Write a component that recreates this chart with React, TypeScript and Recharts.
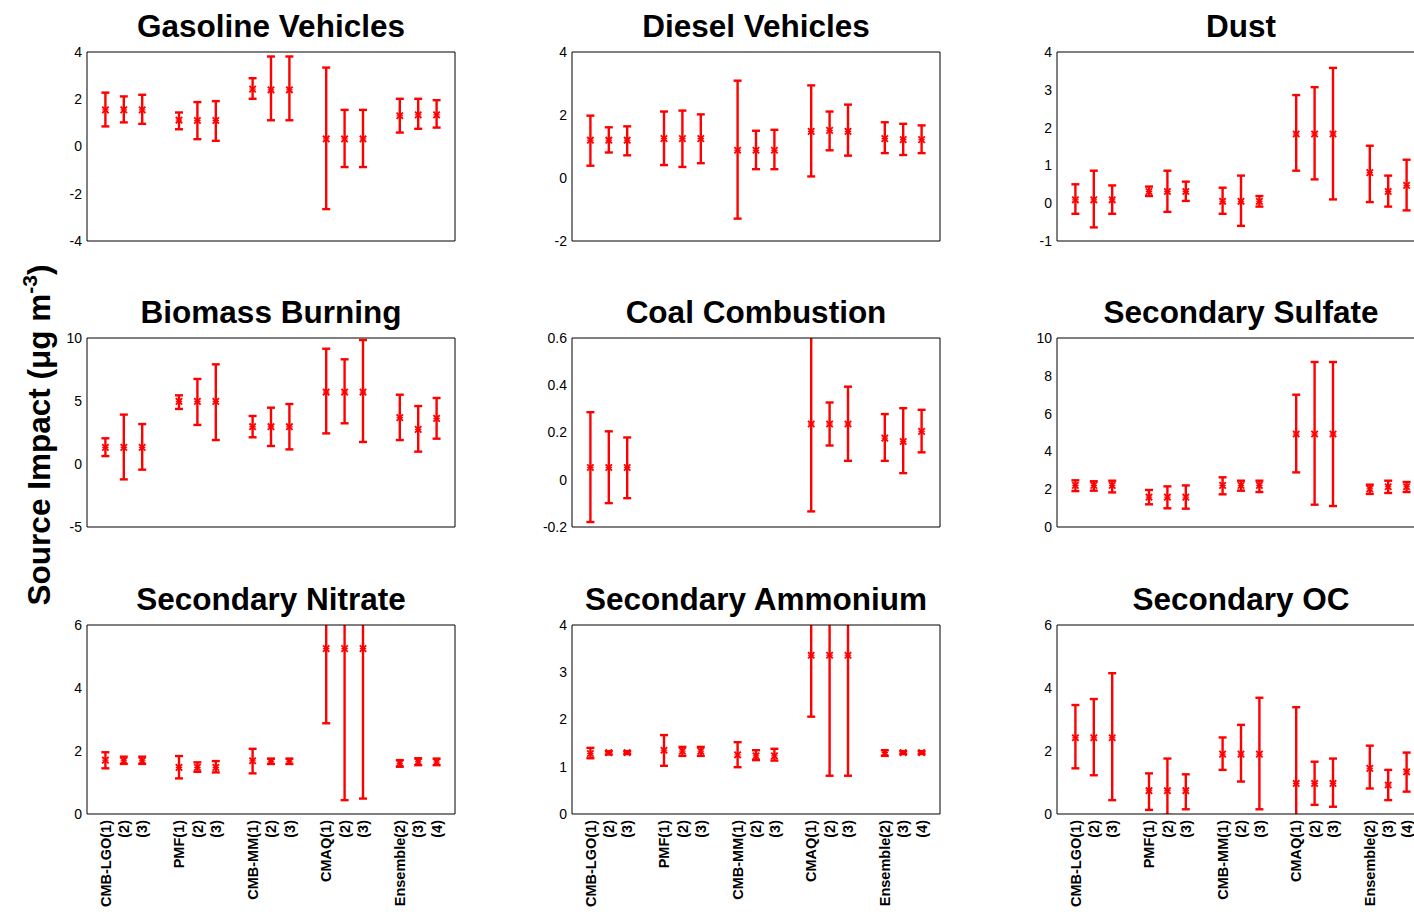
import React from 'react';
import { ComposedChart, Scatter, ErrorBar, XAxis, YAxis } from 'recharts';

// x positions of the 15 estimates (gaps at 4, 8, 12, 16)
const positions = [1, 2, 3, 5, 6, 7, 9, 10, 11, 13, 14, 15, 17, 18, 19];
const methodLabels = [
  'CMB-LGO(1)', '(2)', '(3)',
  'PMF(1)', '(2)', '(3)',
  'CMB-MM(1)', '(2)', '(3)',
  'CMAQ(1)', '(2)', '(3)',
  'Ensemble(2)', '(3)', '(4)',
];
const xFrameTicks = [0, 5, 10, 15, 20];

// Gasoline Vehicles
const gasMean = [1.55, 1.55, 1.55, 1.12, 1.1, 1.1, 2.43, 2.4, 2.4, 0.32, 0.32, 0.32, 1.3, 1.34, 1.34];
const gasLow = [0.85, 1.02, 0.96, 0.73, 0.31, 0.24, 2.02, 1.11, 1.11, -2.65, -0.87, -0.87, 0.59, 0.75, 0.8];
const gasHigh = [2.28, 2.12, 2.19, 1.44, 1.88, 1.92, 2.89, 3.81, 3.81, 3.34, 1.55, 1.55, 2.02, 2.02, 1.96];

// Diesel Vehicles
const dieselMean = [1.2, 1.2, 1.2, 1.25, 1.25, 1.25, 0.88, 0.88, 0.88, 1.48, 1.51, 1.48, 1.25, 1.22, 1.22];
const dieselLow = [0.39, 0.81, 0.72, 0.41, 0.35, 0.47, -1.29, 0.28, 0.28, 0.05, 0.88, 0.71, 0.79, 0.73, 0.79];
const dieselHigh = [1.98, 1.61, 1.64, 2.11, 2.14, 2.02, 3.09, 1.5, 1.53, 2.94, 2.11, 2.33, 1.77, 1.72, 1.67];

// Dust
const dustMean = [0.09, 0.09, 0.09, 0.31, 0.31, 0.31, 0.05, 0.05, 0.05, 1.83, 1.83, 1.83, 0.81, 0.31, 0.47];
const dustLow = [-0.28, -0.64, -0.28, 0.19, -0.23, 0.06, -0.28, -0.6, -0.09, 0.86, 0.63, 0.1, 0.03, -0.09, -0.19];
const dustHigh = [0.5, 0.86, 0.47, 0.44, 0.86, 0.57, 0.41, 0.73, 0.19, 2.86, 3.07, 3.58, 1.52, 0.73, 1.15];

// Biomass Burning
const biomassMean = [1.32, 1.32, 1.32, 4.97, 4.97, 4.97, 2.96, 2.96, 2.96, 5.71, 5.71, 5.71, 3.68, 2.75, 3.62];
const biomassLow = [0.63, -1.22, -0.45, 4.37, 3.1, 1.9, 2.12, 1.43, 1.16, 2.43, 3.23, 1.75, 1.9, 0.98, 2.01];
const biomassHigh = [2.04, 3.92, 3.17, 5.45, 6.75, 7.91, 3.81, 4.47, 4.76, 9.15, 8.31, 9.84, 5.5, 4.6, 5.24];

// Coal Combustion (no PMF / CMB-MM estimates)
const coalMean = [0.052, 0.052, 0.052, null, null, null, null, null, null, 0.236, 0.236, 0.236, 0.176, 0.162, 0.205];
const coalLow = [-0.179, -0.099, -0.078, null, null, null, null, null, null, -0.134, 0.145, 0.08, 0.08, 0.028, 0.116];
const coalHigh = [0.286, 0.205, 0.179, null, null, null, null, null, null, 0.606, 0.327, 0.394, 0.278, 0.303, 0.296];

// Secondary Sulfate
const sulfateMean = [2.2, 2.2, 2.2, 1.58, 1.58, 1.58, 2.2, 2.2, 2.2, 4.92, 4.92, 4.92, 2.02, 2.13, 2.13];
const sulfateLow = [1.9, 1.92, 1.83, 1.2, 0.99, 0.97, 1.73, 1.92, 1.85, 2.89, 1.18, 1.11, 1.75, 1.8, 1.85];
const sulfateHigh = [2.47, 2.42, 2.45, 1.96, 2.15, 2.2, 2.63, 2.45, 2.45, 7.0, 8.73, 8.73, 2.24, 2.45, 2.38];

// Secondary Nitrate
const nitrateMean = [1.71, 1.69, 1.69, 1.48, 1.48, 1.48, 1.69, 1.66, 1.66, 5.25, 5.25, 5.25, 1.61, 1.66, 1.65];
const nitrateLow = [1.45, 1.59, 1.59, 1.13, 1.34, 1.32, 1.29, 1.59, 1.59, 2.88, 0.44, 0.49, 1.5, 1.55, 1.55];
const nitrateHigh = [1.96, 1.82, 1.82, 1.84, 1.64, 1.68, 2.07, 1.76, 1.76, 7.62, 10.06, 10.01, 1.71, 1.77, 1.76];

// Secondary Ammonium
const ammoniumMean = [1.28, 1.3, 1.3, 1.35, 1.33, 1.33, 1.25, 1.23, 1.23, 3.36, 3.36, 3.36, 1.3, 1.3, 1.3];
const ammoniumLow = [1.18, 1.26, 1.27, 1.02, 1.23, 1.23, 0.99, 1.14, 1.13, 2.06, 0.81, 0.81, 1.23, 1.27, 1.27];
const ammoniumHigh = [1.4, 1.33, 1.33, 1.67, 1.42, 1.42, 1.52, 1.35, 1.38, 4.66, 5.91, 5.91, 1.35, 1.33, 1.33];

// Secondary OC
const ocMean = [2.42, 2.42, 2.42, 0.74, 0.74, 0.74, 1.9, 1.9, 1.9, 0.97, 0.97, 0.97, 1.45, 0.92, 1.34];
const ocLow = [1.45, 1.23, 0.44, 0.13, -0.03, 0.15, 1.4, 1.03, 0.15, -1.45, 0.29, 0.23, 0.81, 0.44, 0.71];
const ocHigh = [3.46, 3.65, 4.47, 1.29, 1.76, 1.26, 2.43, 2.83, 3.69, 3.39, 1.66, 1.76, 2.17, 1.4, 1.95];

const panelTitles = [
  'Gasoline Vehicles', 'Diesel Vehicles', 'Dust',
  'Biomass Burning', 'Coal Combustion', 'Secondary Sulfate',
  'Secondary Nitrate', 'Secondary Ammonium', 'Secondary OC',
];
const yDomains: [number, number][] = [
  [-4, 4], [-2, 4], [-1, 4],
  [-5, 10], [-0.2, 0.6], [0, 10],
  [0, 6], [0, 4], [0, 6],
];
const yTickSets = [
  [-4, -2, 0, 2, 4], [-2, 0, 2, 4], [-1, 0, 1, 2, 3, 4],
  [-5, 0, 5, 10], [-0.2, 0, 0.2, 0.4, 0.6], [0, 2, 4, 6, 8, 10],
  [0, 2, 4, 6], [0, 1, 2, 3, 4], [0, 2, 4, 6],
];
const seriesMeans = [gasMean, dieselMean, dustMean, biomassMean, coalMean, sulfateMean, nitrateMean, ammoniumMean, ocMean];
const seriesLows = [gasLow, dieselLow, dustLow, biomassLow, coalLow, sulfateLow, nitrateLow, ammoniumLow, ocLow];
const seriesHighs = [gasHigh, dieselHigh, dustHigh, biomassHigh, coalHigh, sulfateHigh, nitrateHigh, ammoniumHigh, ocHigh];

const FONT = '"Liberation Sans", Arial, Helvetica, sans-serif';
const RED = '#ff0000';
const PLOT_W = 368;
const PLOT_H = 189;
const COL_LEFT = [87, 572, 1057];
const ROW_TOP = [52, 338, 625];
const M_LEFT = 60;
const M_TOP = 10;
const M_RIGHT = 10;
const LABEL_H = 98;
const CLIP_ID = 'plotAreaClip';

const Marker = (p: any) => {
  const { cx, cy } = p;
  if (cx == null || cy == null) return null;
  const s = 3.2;
  return (
    <g>
      <line x1={cx - s} y1={cy - s} x2={cx + s} y2={cy + s} stroke={RED} strokeWidth={1.8} />
      <line x1={cx - s} y1={cy + s} x2={cx + s} y2={cy - s} stroke={RED} strokeWidth={1.8} />
      <line x1={cx - s} y1={cy} x2={cx + s} y2={cy} stroke={RED} strokeWidth={1.2} />
    </g>
  );
};

const CategoryTick = (props: any) => {
  const { x, y, payload } = props;
  const idx = positions.indexOf(payload.value);
  return (
    <text
      x={x}
      y={y}
      transform={`rotate(-90 ${x} ${y})`}
      textAnchor="end"
      dy="0.36em"
      fontFamily={FONT}
      fontWeight="bold"
      fontSize={14.5}
      fill="#000"
    >
      {methodLabels[idx]}
    </text>
  );
};

function Panel({ index }: { index: number }) {
  const row = Math.floor(index / 3);
  const col = index % 3;
  const showLabels = row === 2;
  const mean = seriesMeans[index];
  const low = seriesLows[index];
  const high = seriesHighs[index];
  const data = positions
    .map((x, i) => ({
      x,
      y: mean[i],
      err: mean[i] == null ? null : [(mean[i] as number) - (low[i] as number), (high[i] as number) - (mean[i] as number)],
    }))
    .filter((d) => d.y != null);
  const domain = yDomains[index];
  const ticks = yTickSets[index];
  const width = M_LEFT + PLOT_W + M_RIGHT;
  const height = M_TOP + PLOT_H + (showLabels ? LABEL_H : 10);
  return (
    <div
      className="src-panel"
      style={{ position: 'absolute', left: COL_LEFT[col] - M_LEFT, top: ROW_TOP[row] - M_TOP }}
    >
      <ComposedChart
        width={width}
        height={height}
        data={data}
        margin={{ top: M_TOP, right: M_RIGHT, bottom: showLabels ? 0 : 10, left: 0 }}
      >
        <XAxis
          xAxisId="b"
          dataKey="x"
          type="number"
          domain={[0, 20]}
          ticks={xFrameTicks}
          allowDataOverflow
          orientation="bottom"
          mirror
          tick={false}
          tickSize={5}
          stroke="#000"
          axisLine={{ stroke: '#000', strokeWidth: 1 }}
          tickLine={{ stroke: '#000' }}
        />
        <XAxis
          xAxisId="t"
          dataKey="x"
          type="number"
          domain={[0, 20]}
          ticks={xFrameTicks}
          allowDataOverflow
          orientation="top"
          mirror
          tick={false}
          tickSize={5}
          stroke="#000"
          axisLine={{ stroke: '#000', strokeWidth: 1 }}
          tickLine={{ stroke: '#000' }}
        />
        {showLabels && (
          <XAxis
            xAxisId="lab"
            dataKey="x"
            type="number"
            domain={[0, 20]}
            ticks={positions}
            interval={0}
            allowDataOverflow
            orientation="bottom"
            height={LABEL_H}
            axisLine={false}
            tickLine={false}
            tickSize={0}
            tickMargin={6}
            tick={<CategoryTick />}
          />
        )}
        <YAxis
          yAxisId="l"
          dataKey="y"
          type="number"
          domain={domain}
          ticks={ticks}
          allowDataOverflow
          width={M_LEFT}
          axisLine={false}
          tickLine={false}
          tickSize={0}
          tickMargin={5}
          interval={0}
          tick={{ fill: '#000', fontSize: 14, fontFamily: FONT }}
        />
        <YAxis
          yAxisId="ml"
          type="number"
          domain={domain}
          ticks={ticks}
          allowDataOverflow
          mirror
          tick={false}
          tickSize={5}
          stroke="#000"
          axisLine={{ stroke: '#000', strokeWidth: 1 }}
          tickLine={{ stroke: '#000' }}
        />
        <YAxis
          yAxisId="mr"
          type="number"
          orientation="right"
          domain={domain}
          ticks={ticks}
          allowDataOverflow
          mirror
          tick={false}
          tickSize={5}
          stroke="#000"
          axisLine={{ stroke: '#000', strokeWidth: 1 }}
          tickLine={{ stroke: '#000' }}
        />
        <Scatter
          xAxisId="b"
          yAxisId="l"
          data={data}
          dataKey="y"
          fill={RED}
          shape={Marker}
          isAnimationActive={false}
        >
          <ErrorBar
            dataKey="err"
            direction="y"
            width={4}
            stroke={RED}
            strokeWidth={2.4}
            clipPath={`url(#${CLIP_ID})`}
            isAnimationActive={false}
          />
        </Scatter>
      </ComposedChart>
    </div>
  );
}

export default function App() {
  return (
    <div
      style={{
        position: 'absolute',
        left: 0,
        top: 0,
        width: 1414,
        height: 912,
        overflow: 'hidden',
        background: '#fff',
      }}
    >
      <style>{`.src-panel .recharts-errorBar line { clip-path: url(#${CLIP_ID}); }`}</style>
      <svg width={1414} height={912} style={{ position: 'absolute', left: 0, top: 0 }}>
        <defs>
          <clipPath id={CLIP_ID} clipPathUnits="userSpaceOnUse">
            <rect x={M_LEFT} y={M_TOP} width={PLOT_W} height={PLOT_H} />
          </clipPath>
        </defs>
        {panelTitles.map((t, i) => {
          const row = Math.floor(i / 3);
          const col = i % 3;
          return (
            <text
              key={t}
              x={COL_LEFT[col] + PLOT_W / 2}
              y={ROW_TOP[row] - 15}
              textAnchor="middle"
              fontFamily={FONT}
              fontWeight="bold"
              fontSize={31.5}
              fill="#000"
            >
              {t}
            </text>
          );
        })}
        <text
          transform="translate(50,435) rotate(-90)"
          x={0}
          y={0}
          textAnchor="middle"
          fontFamily={FONT}
          fontWeight="bold"
          fontSize={31.5}
          fill="#000"
        >
          Source Impact (μg m<tspan dy={-13} fontSize={21}>-3</tspan>
          <tspan dy={13}>)</tspan>
        </text>
      </svg>
      {panelTitles.map((t, i) => (
        <Panel key={t} index={i} />
      ))}
    </div>
  );
}
